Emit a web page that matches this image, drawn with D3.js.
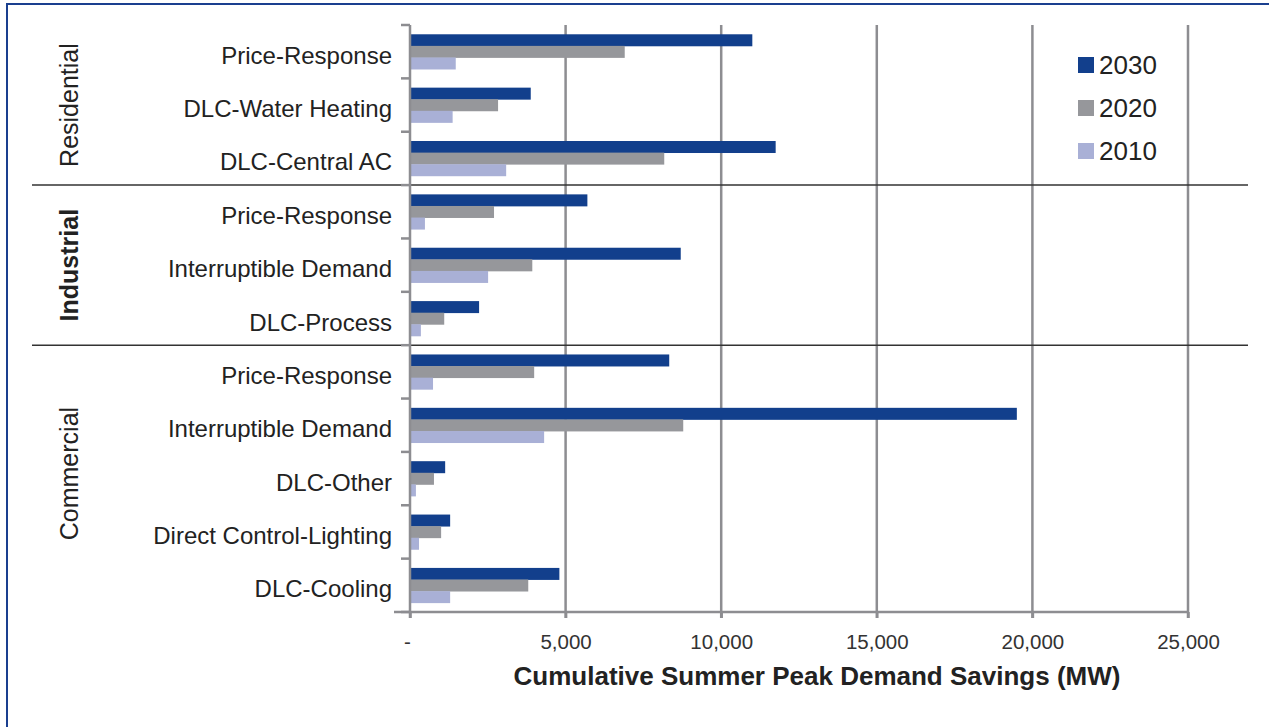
<!DOCTYPE html>
<html>
<head>
<meta charset="utf-8">
<script src="https://cdn.jsdelivr.net/npm/d3@7"></script>
<style>
  body { margin: 0; background: #fff; }
  svg { display: block; font-family: "Liberation Sans", Arial, Helvetica, sans-serif; }
</style>
</head>
<body>
<div id="chart"></div>
<script>
// data (MW)
const programs = ["Price-Response", "DLC-Water Heating", "DLC-Central AC",
                  "Price-Response", "Interruptible Demand", "DLC-Process",
                  "Price-Response", "Interruptible Demand", "DLC-Other",
                  "Direct Control-Lighting", "DLC-Cooling"];
const sectors = ["Residential", "Industrial", "Commercial"];
const sectorSizes = [3, 3, 5];
const sectorBold = [false, true, false];
const years = ["2030", "2020", "2010"];
const v2030 = [11000, 3880, 11750, 5700, 8700, 2220, 8330, 19500, 1130, 1290, 4800];
const v2020 = [6900, 2830, 8170, 2700, 3930, 1100, 3990, 8780, 770, 1000, 3800];
const v2010 = [1470, 1370, 3090, 480, 2510, 350, 740, 4310, 190, 290, 1290];
const xTicks = [0, 5000, 10000, 15000, 20000, 25000];
const colors = ["#123f8c", "#96979b", "#a9b0d6"];

const W = 1269, H = 727;
const plot = { left: 410, right: 1188, top: 25, bottom: 612 };

const svg = d3.select("#chart").append("svg")
    .attr("width", W)
    .attr("height", H);

// blue frame around the figure
svg.append("rect")
    .attr("x", 7).attr("y", 4)
    .attr("width", W + 20).attr("height", H + 20)
    .attr("fill", "none")
    .attr("stroke", "#1a3f8f")
    .attr("stroke-width", 2);

const x = d3.scaleLinear().domain([0, 25000]).range([plot.left, plot.right]);
const y = d3.scaleBand().domain(d3.range(programs.length)).range([plot.top, plot.bottom]);
const yInner = d3.scaleBand().domain(years).range([0, y.bandwidth()]).paddingOuter(0.8);

// vertical gridlines
svg.append("g").selectAll("line")
    .data(xTicks.slice(1))
    .join("line")
    .attr("x1", d => x(d)).attr("x2", d => x(d))
    .attr("y1", plot.top).attr("y2", plot.bottom + 6)
    .attr("stroke", "#8d8d91")
    .attr("stroke-width", 2.5);

// bars
const rows = programs.map((p, i) => ({ i: i, vals: [v2030[i], v2020[i], v2010[i]] }));
const rowG = svg.append("g").selectAll("g")
    .data(rows)
    .join("g")
    .attr("transform", d => "translate(0," + y(d.i) + ")");
rowG.selectAll("rect")
    .data(d => d.vals.map((v, k) => ({ year: years[k], v: v, k: k })))
    .join("rect")
    .attr("x", x(0))
    .attr("y", d => yInner(d.year))
    .attr("width", d => x(d.v) - x(0))
    .attr("height", yInner.bandwidth() + 0.4)
    .attr("fill", d => colors[d.k]);

// sector labels and separators
let cum = 0;
const sepIdx = [];
sectorSizes.forEach((n, s) => {
    const start = cum;
    cum += n;
    if (s < sectorSizes.length - 1) sepIdx.push(cum);
    const yc = (y(start) + y(cum - 1) + y.bandwidth()) / 2;
    svg.append("text")
        .attr("transform", "translate(78," + (yc - (s === 2 ? 5 : 0)) + ") rotate(-90)")
        .attr("text-anchor", "middle")
        .attr("font-size", 25)
        .attr("font-weight", sectorBold[s] ? "bold" : "normal")
        .attr("fill", "#222")
        .text(sectors[s]);
});
svg.append("g").selectAll("line")
    .data(sepIdx)
    .join("line")
    .attr("x1", 32).attr("x2", 1248)
    .attr("y1", d => y(d)).attr("y2", d => y(d))
    .attr("stroke", "#333")
    .attr("stroke-width", 1.5);

// x axis
const xAxis = svg.append("g")
    .attr("transform", "translate(0," + plot.bottom + ")")
    .call(d3.axisBottom(x).tickValues(xTicks).tickSize(6).tickPadding(16)
        .tickFormat(d => d === 0 ? "-" : d3.format(",")(d)));
xAxis.select(".domain").remove();
xAxis.append("line")
    .attr("x1", plot.left - 16).attr("x2", plot.right)
    .attr("stroke", "#8d8d91").attr("stroke-width", 2.5);
xAxis.selectAll(".tick line").attr("stroke", "#8d8d91").attr("stroke-width", 2.5);
xAxis.selectAll(".tick text")
    .attr("font-size", 20.5)
    .attr("fill", "#333")
    .attr("font-family", "'Liberation Sans', Arial, sans-serif");
xAxis.selectAll(".tick").filter(d => d === 0).select("text").attr("dx", -3);

svg.append("text")
    .attr("x", 817).attr("y", 685)
    .attr("text-anchor", "middle")
    .attr("font-size", 26)
    .attr("font-weight", "bold")
    .attr("fill", "#222")
    .text("Cumulative Summer Peak Demand Savings (MW)");

// y axis with ticks between categories
const yAxis = svg.append("g");
yAxis.append("line")
    .attr("x1", plot.left).attr("x2", plot.left)
    .attr("y1", plot.top).attr("y2", plot.bottom + 6)
    .attr("stroke", "#8d8d91").attr("stroke-width", 2.5);
yAxis.selectAll(".tk")
    .data(d3.range(programs.length + 1))
    .join("line")
    .attr("class", "tk")
    .attr("x1", plot.left - 9).attr("x2", plot.left)
    .attr("y1", d => plot.top + d * y.step()).attr("y2", d => plot.top + d * y.step())
    .attr("stroke", "#8d8d91").attr("stroke-width", 2.5);
yAxis.selectAll("text")
    .data(programs)
    .join("text")
    .attr("x", 392)
    .attr("y", (d, i) => y(i) + y.bandwidth() / 2)
    .attr("dy", "0.5em")
    .attr("text-anchor", "end")
    .attr("font-size", 24)
    .attr("fill", "#222")
    .text(d => d);

// legend
const legend = svg.append("g").attr("transform", "translate(1078,57)");
const item = legend.selectAll("g")
    .data(years)
    .join("g")
    .attr("transform", (d, i) => "translate(0," + i * 43 + ")");
item.append("rect")
    .attr("width", 16).attr("height", 16)
    .attr("fill", (d, i) => colors[i]);
item.append("text")
    .attr("x", 21).attr("y", 17)
    .attr("font-size", 26)
    .attr("fill", "#222")
    .text(d => d);
</script>
</body>
</html>
